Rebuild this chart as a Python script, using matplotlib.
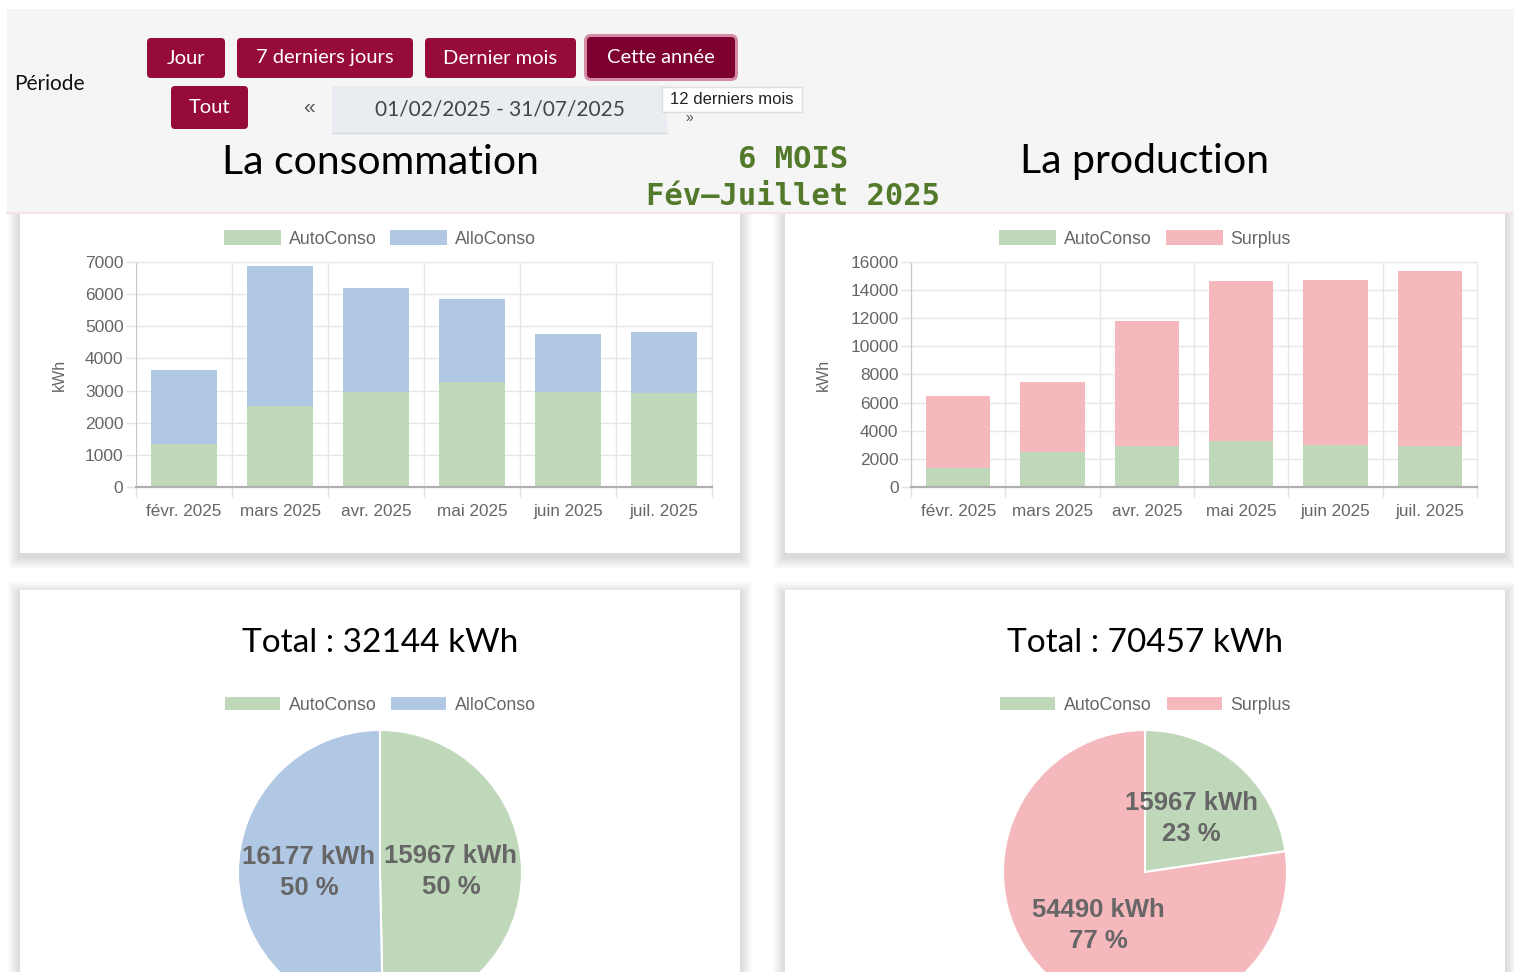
import matplotlib
matplotlib.use("Agg")
import matplotlib.pyplot as plt
from matplotlib.patches import Rectangle, FancyBboxPatch

# monthly values (kWh)
months = ['févr. 2025', 'mars 2025', 'avr. 2025', 'mai 2025', 'juin 2025', 'juil. 2025']
auto_conso = [1325, 2512, 2948, 3278, 2966, 2938]
allo_conso = [2310, 4355, 3254, 2577, 1789, 1892]
surplus = [5135, 4988, 8827, 11392, 11729, 12419]

buttons = ['Jour', '7 derniers jours', 'Dernier mois', 'Cette année', 'Tout']
date_range = '01/02/2025 - 31/07/2025'

GREEN = '#bed8b9'
BLUE = '#b1c8e5'
PINK = '#f5b8bd'
CRIMSON = '#960a3c'
TXT = '#666666'
SANS = 'Liberation Sans'
TITLE = 'Lato'

W, H = 1514, 972
fig = plt.figure(figsize=(W / 100, H / 100), dpi=100)
fig.patch.set_facecolor('white')


def px_axes(x0, y0, x1, y1):
    return fig.add_axes([x0 / W, 1 - y1 / H, (x1 - x0) / W, (y1 - y0) / H])


# background layer in pixel coordinates
bg = fig.add_axes([0, 0, 1, 1])
bg.set_xlim(0, W)
bg.set_ylim(H, 0)
bg.axis('off')

cards = [(20, 213, 740, 553), (785, 213, 1505, 553),
         (20, 590, 740, 1000), (785, 590, 1505, 1000)]
for x0, y0, x1, y1 in cards:
    for k in range(12, 0, -1):
        bg.add_patch(Rectangle((x0 - k, y0 - k + 4), x1 - x0 + 2 * k, y1 - y0 + 2 * k,
                               color='black', alpha=0.012, lw=0))
bg.add_patch(Rectangle((7, 9), W - 7, 204, color='#f5f5f5', lw=0))
bg.plot([7, W], [213, 213], color='#f6e3e8', lw=1.5)
for x0, y0, x1, y1 in cards:
    bg.add_patch(Rectangle((x0, y0), x1 - x0, y1 - y0, color='white', lw=0))

# header controls
bg.text(14, 84, 'Période', fontsize=15, family=TITLE, va='center', ha='left', color='#111')
btn_boxes = [(147, 38, 225, 78), (237, 38, 413, 78), (425, 38, 576, 78),
             (587, 37, 735, 78), (171, 86, 248, 129)]
for label, (x0, y0, x1, y1) in zip(buttons, btn_boxes):
    active = label == 'Cette année'
    if active:
        bg.add_patch(FancyBboxPatch((x0 - 3, y0 - 3), x1 - x0 + 6, y1 - y0 + 6,
                                    boxstyle='round,pad=0,rounding_size=7',
                                    fc='#d48ca5', ec='none'))
    bg.add_patch(FancyBboxPatch((x0, y0), x1 - x0, y1 - y0,
                                boxstyle='round,pad=0,rounding_size=4',
                                fc='#7d0030' if active else CRIMSON, ec='none'))
    bg.text((x0 + x1) / 2, (y0 + y1) / 2, label, color='white', fontsize=14.5,
            family=TITLE, ha='center', va='center')

bg.text(309, 108, '«', fontsize=15, color='#555', ha='center', va='center', family=SANS)
bg.add_patch(Rectangle((332, 86), 335, 47, color='#e9edf1', lw=0))
bg.plot([332, 667], [133, 133], color='#d6dadf', lw=1)
bg.text(500, 109, date_range, fontsize=15, color='#444', ha='center', va='center', family=TITLE)
bg.text(689, 118, '»', fontsize=10, color='#555', ha='center', va='center', family=SANS)
bg.add_patch(Rectangle((662, 87), 140, 25, fc='white', ec='#dddddd', lw=1))
bg.text(732, 100, '12 derniers mois', fontsize=12, color='#222', ha='center', va='center',
        family=SANS)

bg.text(380, 162, 'La consommation', fontsize=29.5, family=TITLE, ha='center', va='center')
bg.text(1145, 162, 'La production', fontsize=29.5, family=TITLE, ha='center', va='center')
bg.text(793, 160, '6 MOIS', fontsize=22, family='DejaVu Sans Mono', weight='bold',
        color='#527a2a', ha='center', va='center')
bg.text(793, 196, 'Fév–Juillet 2025', fontsize=22, family='DejaVu Sans Mono', weight='bold',
        color='#527a2a', ha='center', va='center')


def style_bar_axes(ax, ymax, step):
    n = len(months)
    x = list(range(n))
    ax.set_xlim(-0.5, n - 0.5)
    ax.set_ylim(0, ymax)
    ax.set_xticks(x)
    ax.set_xticklabels(months)
    ax.set_xticks([i - 0.5 for i in range(n + 1)], minor=True)
    ax.set_yticks(range(0, ymax + 1, step))
    ax.tick_params(axis='x', which='major', length=0, pad=12, labelsize=12.3, labelcolor=TXT)
    ax.tick_params(axis='x', which='minor', length=7.5, width=1, color='#e3e3e3')
    ax.tick_params(axis='y', length=7, width=1, color='#e3e3e3', pad=2, labelsize=12.5,
                   labelcolor=TXT)
    for lab in ax.get_xticklabels() + ax.get_yticklabels():
        lab.set_family(SANS)
    ax.grid(True, axis='y', color='#e6e6e6', lw=1)
    ax.grid(True, axis='x', which='minor', color='#e6e6e6', lw=1)
    ax.set_axisbelow(True)
    ax.spines['top'].set_color('#e6e6e6')
    ax.spines['right'].set_color('#e6e6e6')
    ax.spines['left'].set_color('#c8c8c8')
    ax.spines['bottom'].set_color('#b0b0b0')
    ax.spines['bottom'].set_linewidth(1.6)
    ax.set_facecolor('none')
    ax.set_ylabel('kWh', fontsize=11.5, color=TXT, family=SANS)
    return x


def legend(ax, handles, labels, cx, cy):
    ax.legend(handles, labels, loc='center', bbox_to_anchor=(cx / W, 1 - cy / H),
              bbox_transform=fig.transFigure, ncol=2, frameon=False,
              handlelength=3.2, handleheight=0.95, handletextpad=0.45, columnspacing=0.8,
              prop={'family': SANS, 'size': 12.8}, labelcolor=TXT)


# consumption bars
ax1 = px_axes(136, 262, 712, 487)
x = style_bar_axes(ax1, 7000, 1000)
b1 = ax1.bar(x, auto_conso, width=0.68, color=GREEN)
b2 = ax1.bar(x, allo_conso, bottom=auto_conso, width=0.68, color=BLUE)
ax1.yaxis.set_label_coords(-0.12, 0.5)
legend(ax1, [b1, b2], ['AutoConso', 'AlloConso'], 380, 239)

# production bars
ax2 = px_axes(911, 262, 1477, 487)
x = style_bar_axes(ax2, 16000, 2000)
b3 = ax2.bar(x, auto_conso, width=0.68, color=GREEN)
b4 = ax2.bar(x, surplus, bottom=auto_conso, width=0.68, color=PINK)
ax2.yaxis.set_label_coords(-0.141, 0.5)
legend(ax2, [b3, b4], ['AutoConso', 'Surplus'], 1145, 239)


def draw_pie(cx, vals, colors, labels):
    total = sum(vals)
    r = 142
    ax = px_axes(cx - r, 872 - r, cx + r, 872 + r)
    wedges, _, autot = ax.pie(
        vals, colors=colors, startangle=90, counterclock=False, radius=1,
        autopct=lambda p: f"{round(p * total / 100)} kWh\n{p:.0f} %", pctdistance=0.5,
        wedgeprops={'edgecolor': 'white', 'linewidth': 1.5},
        textprops={'fontsize': 18.5, 'weight': 'bold', 'color': TXT, 'family': SANS,
                   'linespacing': 1.35})
    ax.set_xlim(-1, 1)
    ax.set_ylim(-1, 1)
    ax.set_aspect('equal')
    bg.text(cx, 643, f"Total : {total} kWh", fontsize=24, family=TITLE,
            ha='center', va='center')
    legend(ax, wedges, labels, cx, 705)


draw_pie(380, [sum(auto_conso), sum(allo_conso)], [GREEN, BLUE], ['AutoConso', 'AlloConso'])
draw_pie(1145, [sum(auto_conso), sum(surplus)], [GREEN, PINK], ['AutoConso', 'Surplus'])

fig.savefig('out.png', dpi=100)
